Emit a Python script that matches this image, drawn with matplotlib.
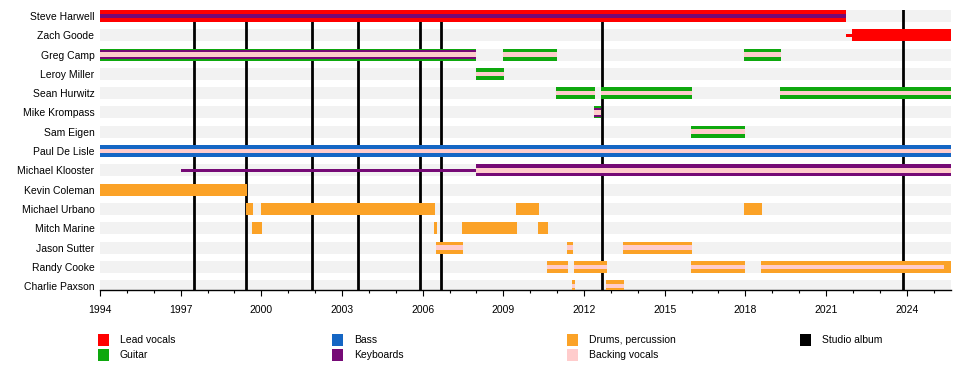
import matplotlib
matplotlib.use("Agg")
import matplotlib.pyplot as plt
from matplotlib.patches import Rectangle

plt.rcParams['font.family'] = ['Liberation Sans', 'DejaVu Sans']

members = ["Steve Harwell", "Zach Goode", "Greg Camp", "Leroy Miller",
           "Sean Hurwitz", "Mike Krompass", "Sam Eigen", "Paul De Lisle",
           "Michael Klooster", "Kevin Coleman", "Michael Urbano",
           "Mitch Marine", "Jason Sutter", "Randy Cooke", "Charlie Paxson"]

START = 1994.0
END = 2025.65

albums = [1997.51, 1999.42, 2001.9, 2003.59, 2005.9, 2006.7, 2012.68, 2023.87]

role_colors = {
    "Lead vocals": "#ff0000",
    "Guitar": "#0ea80e",
    "Bass": "#1566c4",
    "Keyboards": "#760a76",
    "Drums, percussion": "#fba227",
    "Backing vocals": "#ffcccc",
    "Studio album": "#000000",
}

# main role of each member (full-height bars)
main_roles = [
    ("Steve Harwell", "Lead vocals", 1994.0, 2021.73),
    ("Zach Goode", "Lead vocals", 2021.98, END),
    ("Greg Camp", "Guitar", 1994.0, 2008.0),
    ("Greg Camp", "Guitar", 2009.0, 2010.98),
    ("Greg Camp", "Guitar", 2017.95, 2019.33),
    ("Leroy Miller", "Guitar", 2007.98, 2009.02),
    ("Sean Hurwitz", "Guitar", 2010.96, 2012.41),
    ("Sean Hurwitz", "Guitar", 2012.65, 2016.0),
    ("Sean Hurwitz", "Guitar", 2019.29, END),
    ("Mike Krompass", "Guitar", 2012.37, 2012.65),
    ("Sam Eigen", "Guitar", 2015.98, 2017.99),
    ("Paul De Lisle", "Bass", 1994.0, END),
    ("Michael Klooster", "Keyboards", 2007.98, END),
    ("Kevin Coleman", "Drums, percussion", 1994.0, 1999.45),
    ("Michael Urbano", "Drums, percussion", 1999.43, 1999.7),
    ("Michael Urbano", "Drums, percussion", 2000.0, 2006.46),
    ("Michael Urbano", "Drums, percussion", 2009.47, 2010.33),
    ("Michael Urbano", "Drums, percussion", 2017.95, 2018.62),
    ("Mitch Marine", "Drums, percussion", 1999.65, 2000.02),
    ("Mitch Marine", "Drums, percussion", 2006.42, 2006.53),
    ("Mitch Marine", "Drums, percussion", 2007.46, 2009.51),
    ("Mitch Marine", "Drums, percussion", 2010.29, 2010.66),
    ("Jason Sutter", "Drums, percussion", 2006.5, 2007.51),
    ("Jason Sutter", "Drums, percussion", 2011.37, 2011.59),
    ("Jason Sutter", "Drums, percussion", 2013.45, 2016.01),
    ("Randy Cooke", "Drums, percussion", 2010.62, 2011.4),
    ("Randy Cooke", "Drums, percussion", 2011.63, 2012.85),
    ("Randy Cooke", "Drums, percussion", 2015.98, 2017.99),
    ("Randy Cooke", "Drums, percussion", 2018.58, END),
    ("Charlie Paxson", "Drums, percussion", 2011.55, 2011.66),
    ("Charlie Paxson", "Drums, percussion", 2012.82, 2013.49),
]

# second role
second_roles = [
    ("Greg Camp", "Keyboards", 1994.0, 2008.0),
    ("Mike Krompass", "Keyboards", 2012.37, 2012.65),
]

# third role
third_roles = [
    ("Steve Harwell", "Keyboards", 1994.0, 2021.73),
    ("Greg Camp", "Backing vocals", 1994.0, 2008.0),
    ("Greg Camp", "Backing vocals", 2009.0, 2010.98),
    ("Greg Camp", "Backing vocals", 2017.95, 2019.33),
    ("Leroy Miller", "Backing vocals", 2007.98, 2009.02),
    ("Sean Hurwitz", "Backing vocals", 2010.96, 2012.41),
    ("Sean Hurwitz", "Backing vocals", 2012.65, 2016.0),
    ("Sean Hurwitz", "Backing vocals", 2019.29, END),
    ("Mike Krompass", "Backing vocals", 2012.37, 2012.65),
    ("Sam Eigen", "Backing vocals", 2015.98, 2017.99),
    ("Paul De Lisle", "Backing vocals", 1994.0, END),
    ("Michael Klooster", "Backing vocals", 2007.98, END),
    ("Jason Sutter", "Backing vocals", 2006.5, 2007.51),
    ("Jason Sutter", "Backing vocals", 2011.37, 2011.59),
    ("Jason Sutter", "Backing vocals", 2013.45, 2016.01),
    ("Randy Cooke", "Backing vocals", 2010.62, 2011.4),
    ("Randy Cooke", "Backing vocals", 2011.63, 2012.85),
    ("Randy Cooke", "Backing vocals", 2015.98, 2017.99),
    ("Randy Cooke", "Backing vocals", 2018.58, 2025.4),
    ("Charlie Paxson", "Backing vocals", 2011.55, 2011.66),
    ("Charlie Paxson", "Backing vocals", 2012.82, 2013.49),
]

# touring / fill-in spells (thin lines)
touring = [
    ("Zach Goode", "Lead vocals", 2021.73, 2021.98),
    ("Michael Klooster", "Keyboards", 1997.0, 2007.98),
]

legend_cols = [["Lead vocals", "Guitar"], ["Bass", "Keyboards"],
               ["Drums, percussion", "Backing vocals"], ["Studio album"]]

fig = plt.figure(figsize=(9.6, 3.7), dpi=100)
ax = fig.add_axes([100 / 960, 80 / 370, 851 / 960, 280 / 370])

row = {m: i for i, m in enumerate(members)}

# grey row bands
for m in members:
    ax.barh(row[m], END - START, left=START, height=0.62,
            color="#f2f2f2", zorder=1)

for a in albums:
    ax.axvline(a, color="black", lw=2, zorder=2)


def draw(periods, h, z):
    for m, role, s, e in periods:
        ax.barh(row[m], e - s, left=s, height=h, color=role_colors[role],
                zorder=z, linewidth=0)


draw(main_roles, 0.62, 3)
draw(touring, 0.18, 3)
draw(second_roles, 0.45, 4)
draw(third_roles, 0.24, 5)

ax.set_xlim(START, END)
ax.set_ylim(14.2, -0.31)
ax.set_yticks(range(len(members)))
ax.set_yticklabels(members, fontsize=7.5)
ax.tick_params(axis="y", length=0, pad=4)
ax.set_xticks(range(1994, 2025, 3))
ax.set_xticks(range(1994, 2026), minor=True)
ax.tick_params(axis="x", which="major", length=4.5, width=0.8, pad=6,
               labelsize=7.5)
ax.tick_params(axis="x", which="minor", length=2.2, width=0.8)
for s in ["top", "right", "left"]:
    ax.spines[s].set_visible(False)
ax.spines["bottom"].set_linewidth(1)

# legend
col_x = [98, 332, 567, 800]
row_y = [340, 355]
for cx, entries in zip(col_x, legend_cols):
    for ry, label in zip(row_y, entries):
        fig.add_artist(Rectangle((cx / 960, (370 - ry - 6) / 370), 11 / 960,
                                 12 / 370, transform=fig.transFigure,
                                 color=role_colors[label], lw=0))
        fig.text((cx + 22) / 960, (370 - ry) / 370, label, fontsize=7.5,
                 va="center", ha="left")

fig.savefig("out.png", dpi=100)
